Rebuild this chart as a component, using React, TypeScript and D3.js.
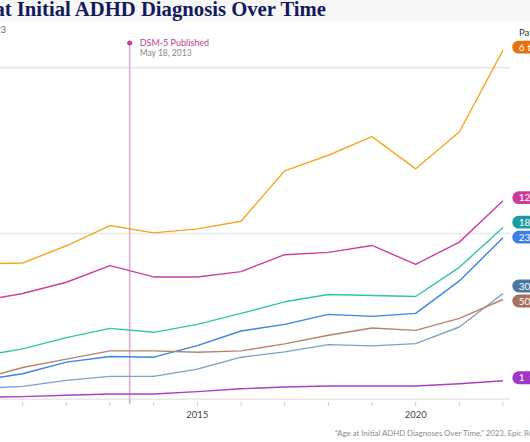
import React from "react";
import * as d3 from "d3";

const years = [2010, 2011, 2012, 2013, 2014, 2015, 2016, 2017, 2018, 2019, 2020, 2021, 2022];
const tickLabelYears = [2010, 2015, 2020];
const gridValues = [0, 5, 10];

const age6to11 = [4.08, 4.11, 4.63, 5.24, 5.02, 5.14, 5.37, 6.89, 7.36, 7.92, 6.95, 8.06, 10.53];
const age12to17 = [2.96, 3.19, 3.53, 4.03, 3.69, 3.69, 3.85, 4.36, 4.43, 4.64, 4.07, 4.74, 5.99];
const age18to22 = [1.3, 1.52, 1.86, 2.14, 2.02, 2.26, 2.59, 2.94, 3.16, 3.13, 3.1, 3.98, 5.18];
const age23to29 = [0.57, 0.77, 1.12, 1.29, 1.27, 1.62, 2.06, 2.26, 2.56, 2.5, 2.59, 3.57, 4.87];
const age30to49 = [0.32, 0.39, 0.57, 0.69, 0.69, 0.91, 1.27, 1.43, 1.65, 1.61, 1.68, 2.18, 3.19];
const age50plus = [0.6, 0.96, 1.21, 1.46, 1.46, 1.42, 1.46, 1.67, 1.93, 2.15, 2.08, 2.44, 3.01];
const age1to5 = [0.06, 0.08, 0.12, 0.16, 0.16, 0.23, 0.32, 0.37, 0.4, 0.4, 0.4, 0.47, 0.56];

const seriesNames = ["6 to 11", "12 to 17", "18 to 22", "23 to 29", "30 to 49", "50 to 64", "1  to 5"];
const seriesValues = [age6to11, age12to17, age18to22, age23to29, age30to49, age50plus, age1to5];
const lineColors = ["#f6a623", "#cc3f9e", "#2ec6a8", "#3d83e8", "#7fa0c8", "#b8826e", "#a640c8"];
const badgeColors = ["#e8700c", "#c83c9a", "#1a9ba0", "#3a80e6", "#4a78a2", "#a8705e", "#a035c6"];

// annotation position on the year axis (DSM-5 published, May 18, 2013 as plotted)
const dsmDate = 2013.45;

export default function App() {
  const W = 530;
  const H = 442;
  const x = d3.scaleLinear().domain([2011, 2022]).range([22.7, 503]);
  const y = d3.scaleLinear().domain([0, 10]).range([399.3, 67.7]);
  const line = d3
    .line<number>()
    .x((_, i) => x(years[i]))
    .y((v) => y(v));

  const labels = seriesValues.map((vals, i) => ({ i, pos: y(vals[vals.length - 1]) - 3 }));
  labels.sort((a, b) => a.pos - b.pos);
  const gap = 15;
  for (let iter = 0; iter < 50; iter++) {
    let moved = false;
    for (let k = 1; k < labels.length; k++) {
      const d = labels[k].pos - labels[k - 1].pos;
      if (d < gap) {
        const shift = (gap - d) / 2;
        labels[k - 1].pos -= shift;
        labels[k].pos += shift;
        moved = true;
      }
    }
    if (!moved) break;
  }

  const font = "Lato, 'Open Sans', sans-serif";

  return (
    <svg
      width={W}
      height={H}
      style={{ position: "absolute", left: 0, top: 0, background: "#fff" }}
      fontFamily={font}
    >
      <rect x={0} y={0} width={W} height={21} fill="#f7f7f7" />
      <text
        x={326}
        y={15.5}
        textAnchor="end"
        fontFamily="'Liberation Serif', 'DejaVu Serif', serif"
        fontWeight={700}
        fontSize={20.7}
        fill="#121a5c"
      >
        Changes in Age at Initial ADHD Diagnosis Over Time
      </text>
      <text x={6} y={33} textAnchor="end" fontSize={9} fill="#666">
        Patients diagnosed, 2010–2023
      </text>

      {gridValues.map((g) => (
        <line
          key={g}
          x1={x(2009.5)}
          x2={510}
          y1={y(g)}
          y2={y(g)}
          stroke="#e8e8e8"
          strokeWidth={1.5}
        />
      ))}

      {years.map((yr) => (
        <line key={yr} x1={x(yr)} x2={x(yr)} y1={402} y2={406} stroke="#cfcfcf" strokeWidth={1} />
      ))}
      {tickLabelYears.map((yr) => (
        <text key={yr} x={x(yr)} y={418} textAnchor="middle" fontSize={9.5} fill="#444">
          {yr}
        </text>
      ))}

      <line
        x1={x(dsmDate)}
        x2={x(dsmDate)}
        y1={43}
        y2={404}
        stroke="#dcaed0"
        strokeWidth={1.6}
      />
      <circle cx={x(dsmDate)} cy={43} r={2.5} fill="#c83c96" />
      <text x={x(dsmDate) + 10} y={46} fontSize={9} fill="#b8438f">
        DSM-5 Published
      </text>
      <text x={x(dsmDate) + 10} y={56} fontSize={8.5} fill="#888">
        May 18, 2013
      </text>

      {seriesValues.map((vals, i) => (
        <path
          key={seriesNames[i]}
          d={line(vals) || ""}
          fill="none"
          stroke={lineColors[i]}
          strokeWidth={1.4}
          strokeLinejoin="round"
        />
      ))}

      <text x={519} y={36} fontSize={9.5} fill="#333">
        Patient Age
      </text>

      {labels.map(({ i, pos }) => (
        <g key={seriesNames[i]} transform={`translate(512.3, ${pos})`}>
          <rect x={0} y={-6.4} width={60} height={12.8} rx={6.4} fill={badgeColors[i]} />
          <text x={6.5} y={3.6} fontSize={10} fill="#fff" style={{ whiteSpace: "pre" }}>
            {seriesNames[i]}
          </text>
        </g>
      ))}

      <text x={335} y={436} fontSize={7.8} fill="#8a8a8a">
        “Age at Initial ADHD Diagnoses Over Time,” 2023. Epic Research.
      </text>
    </svg>
  );
}
